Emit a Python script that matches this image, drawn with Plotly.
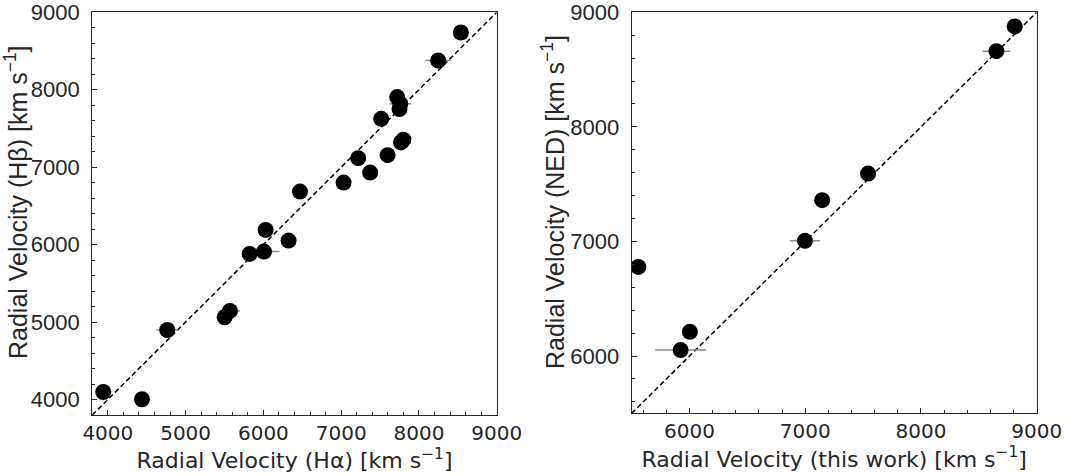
import plotly.graph_objects as go

# Left panel: H-alpha vs H-beta radial velocities
ha = [8539, 8247, 7720, 7760, 7750, 7515, 7770, 7800, 7219, 7597, 7373,
      7031, 6470, 6029, 6324, 5823, 6007, 5570, 5502, 4764, 3941, 4439]
hb = [8739, 8378, 7905, 7818, 7750, 7624, 7320, 7355, 7116, 7155, 6930,
      6801, 6685, 6190, 6052, 5880, 5910, 5144, 5062, 4898, 4097, 4003]
ha_err = [60, 160, 60, 140, 60, 60, 60, 60, 60, 60, 60,
          60, 60, 60, 60, 60, 200, 130, 60, 140, 100, 60]

# Right panel: this work vs NED
tw = [8810, 8652, 7543, 7146, 6997, 5557, 6003, 5923]
ned = [8877, 8661, 7592, 7360, 7005, 6778, 6211, 6052]
tw_err = [70, 120, 40, 40, 130, 40, 40, 220]

left_range = [3800, 9000]
right_range = [5500, 9000]
left_ticks = [4000, 5000, 6000, 7000, 8000, 9000]
right_ticks = [6000, 7000, 8000, 9000]

W, H = 1067, 476
fig = go.Figure()

# 1:1 lines
fig.add_trace(go.Scatter(x=left_range, y=left_range, mode="lines",
                         line=dict(color="black", width=1.5, dash="5px,3px"),
                         xaxis="x", yaxis="y", showlegend=False, hoverinfo="skip"))
fig.add_trace(go.Scatter(x=right_range, y=right_range, mode="lines",
                         line=dict(color="black", width=1.5, dash="5px,3px"),
                         xaxis="x2", yaxis="y2", showlegend=False, hoverinfo="skip"))

fig.add_trace(go.Scatter(x=ha, y=hb, mode="markers",
                         marker=dict(color="black", size=16),
                         error_x=dict(type="data", array=ha_err, color="#8a8a8a",
                                      thickness=1.5, width=0),
                         xaxis="x", yaxis="y", showlegend=False))
fig.add_trace(go.Scatter(x=tw, y=ned, mode="markers",
                         marker=dict(color="black", size=16),
                         error_x=dict(type="data", array=tw_err, color="#8a8a8a",
                                      thickness=1.5, width=0),
                         xaxis="x2", yaxis="y2", showlegend=False))

axcol = "#262626"
xfont = dict(family="DejaVu Sans", size=20, color=axcol)
yfont = dict(family="Liberation Sans, Arial", size=22, color=axcol)
ytitle_font = dict(family="Liberation Sans, Arial", size=25, color=axcol)

def xax(domain, rng, ticks, title, anchor):
    return dict(domain=domain, range=rng, anchor=anchor, automargin=False,
                tickvals=ticks, ticktext=[str(t) for t in ticks],
                ticks="inside", ticklen=5, tickwidth=1, tickcolor=axcol,
                minor=dict(dtick=200, tick0=0, ticks="inside", ticklen=3,
                           tickwidth=1, tickcolor=axcol),
                showline=True, linecolor=axcol, linewidth=1.2, mirror=True,
                showgrid=False, zeroline=False,
                tickfont=xfont, ticklabelstandoff=0,
                title=dict(text=title, font=dict(family="DejaVu Sans", size=22, color=axcol),
                           standoff=0))

def yax(domain, rng, ticks, anchor):
    return dict(domain=domain, range=rng, anchor=anchor, automargin=False,
                tickvals=ticks, ticktext=[str(t) for t in ticks],
                ticks="inside", ticklen=5, tickwidth=1, tickcolor=axcol,
                minor=dict(dtick=200, tick0=0, ticks="inside", ticklen=3,
                           tickwidth=1, tickcolor=axcol),
                showline=True, linecolor=axcol, linewidth=1.2, mirror=True,
                showgrid=False, zeroline=False,
                tickfont=yfont, ticklabelstandoff=7)

fig.update_layout(
    width=W, height=H,
    margin=dict(l=0, r=0, t=0, b=0, autoexpand=False),
    paper_bgcolor="white", plot_bgcolor="white",
    xaxis=xax([92.3 / W, 496.7 / W], left_range, left_ticks,
              "Radial Velocity (Hα) [km s<sup>−1</sup>]", "y"),
    yaxis=yax([(H - 415) / H, (H - 12.3) / H], left_range, left_ticks, "x"),
    xaxis2=xax([631.7 / W, 1036.7 / W], right_range, right_ticks,
               "Radial Velocity (this work) [km s<sup>−1</sup>]", "y2"),
    yaxis2=yax([(H - 413.3) / H, (H - 12.3) / H], right_range, right_ticks, "x2"),
    annotations=[
        dict(text="Radial Velocity (Hβ) [km s<sup>−1</sup>]", textangle=-90,
             xref="paper", yref="paper", x=16 / W, y=1 - 202 / H,
             xanchor="center", yanchor="middle", showarrow=False, font=ytitle_font),
        dict(text="Radial Velocity (NED) [km s<sup>−1</sup>]", textangle=-90,
             xref="paper", yref="paper", x=553 / W, y=1 - 202 / H,
             xanchor="center", yanchor="middle", showarrow=False, font=ytitle_font),
    ],
)

fig.write_html("out.html")
